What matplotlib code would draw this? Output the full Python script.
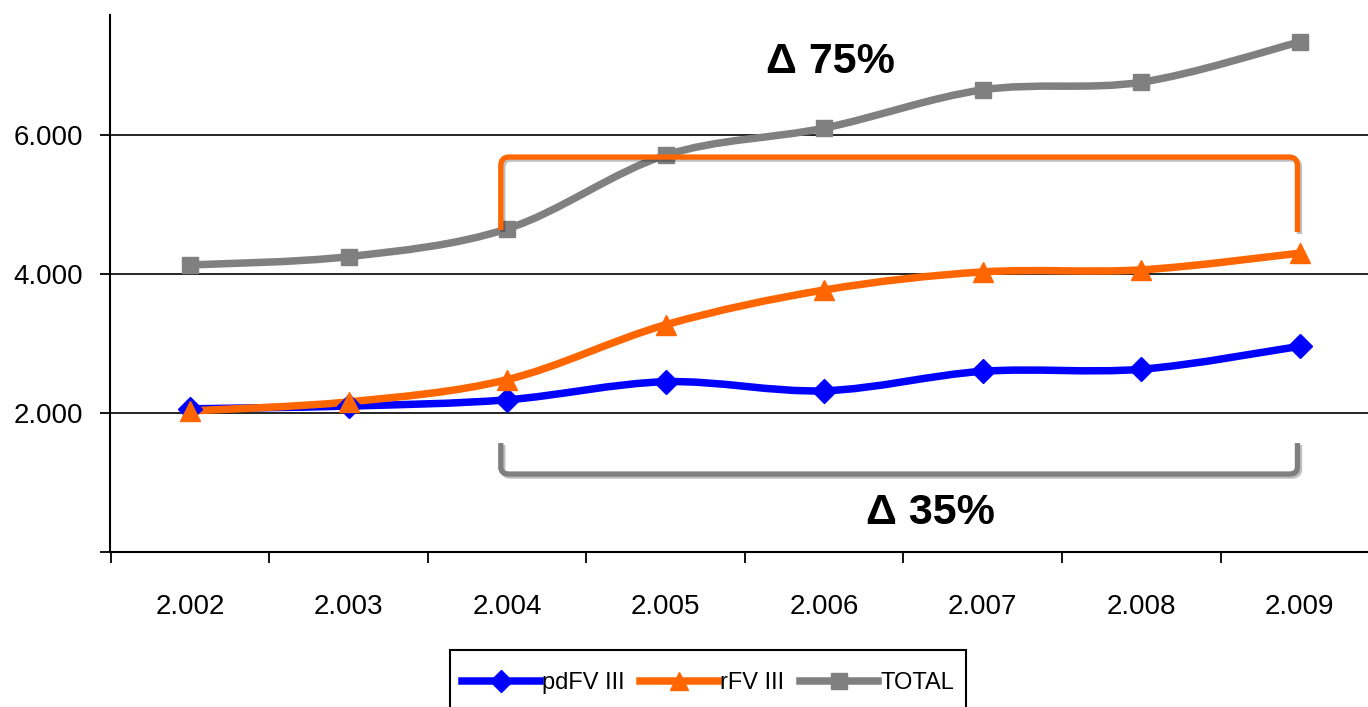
import matplotlib
matplotlib.use("Agg")
import matplotlib.pyplot as plt
import numpy as np
from matplotlib.path import Path
from matplotlib.patches import PathPatch, Rectangle
from matplotlib.lines import Line2D
from matplotlib import font_manager
import matplotlib.patheffects as pe
from matplotlib.ticker import FixedLocator, FuncFormatter

# ---- data ----
years = ["2.002", "2.003", "2.004", "2.005", "2.006", "2.007", "2.008", "2.009"]
pdFVIII = [2060, 2100, 2190, 2450, 2320, 2600, 2630, 2960]
rFVIII = [2030, 2160, 2480, 3270, 3770, 4030, 4060, 4300]
total = [4130, 4250, 4650, 5710, 6100, 6650, 6760, 7340]
series_names = ["pdFV III", "rFV III", "TOTAL"]
series_colors = ["#0000FF", "#FF6600", "#808080"]
series_markers = ["D", "^", "s"]
annot_top = "Δ 75%"
annot_bottom = "Δ 35%"

names = {f.name for f in font_manager.fontManager.ttflist}
narrow = "Liberation Sans Narrow" if "Liberation Sans Narrow" in names else "Liberation Sans"

W, H = 1368, 707
fig = plt.figure(figsize=(W / 100, H / 100), dpi=100)
ax = fig.add_axes([110 / W, 1 - 552 / H, 1 - 110 / W, (552 - 15) / H])

x = np.arange(len(years))


def smooth_path(xs, ys):
    pts = np.column_stack([xs, ys]).astype(float)
    n = len(pts)
    verts = [pts[0]]
    codes = [Path.MOVETO]
    for i in range(n - 1):
        p0 = pts[i - 1] if i > 0 else pts[i]
        p1 = pts[i]
        p2 = pts[i + 1]
        p3 = pts[i + 2] if i + 2 < n else pts[i + 1]
        c1 = p1 + (p2 - p0) / 6.0
        c2 = p2 - (p3 - p1) / 6.0
        verts += [c1, c2, p2]
        codes += [Path.CURVE4] * 3
    return Path(verts, codes)


series = [pdFVIII, rFVIII, total]
msizes = [12, 14, 12]
handles = []
for vals, name, col, mk, ms in zip(series, series_names, series_colors, series_markers, msizes):
    patch = PathPatch(smooth_path(x, vals), facecolor="none", edgecolor=col,
                      lw=5.4, capstyle="butt", joinstyle="round", zorder=3)
    ax.add_patch(patch)
    ax.plot(x, vals, ls="none", marker=mk, color=col, ms=ms, mec=col, zorder=4)
    handles.append(Line2D([], [], color=col, lw=5.4, marker=mk, ms=ms - 1, mec=col))

ax.set_xlim(-0.505, 7.43)
ax.set_ylim(0, 7727)

# axes styling
for s in ["top", "right"]:
    ax.spines[s].set_visible(False)
for s in ["left", "bottom"]:
    ax.spines[s].set_color("black")
    ax.spines[s].set_linewidth(1.5)

ax.yaxis.set_major_locator(FixedLocator([0, 2000, 4000, 6000]))
ax.yaxis.set_major_formatter(FuncFormatter(lambda v, p: "" if v == 0 else f"{int(v):,}".replace(",", ".")))
ax.tick_params(axis="y", direction="out", length=7.5, width=1.3, pad=12,
               labelsize=20, labelcolor="black")
for lbl in ax.get_yticklabels():
    lbl.set_fontfamily(narrow)
ax.grid(axis="y", color="black", lw=1.2, zorder=1)

ax.xaxis.set_major_locator(FixedLocator(np.arange(-0.5, 8.0, 1.0)))
ax.xaxis.set_major_formatter(FuncFormatter(lambda v, p: ""))
ax.xaxis.set_minor_locator(FixedLocator(x))
ax.xaxis.set_minor_formatter(FuncFormatter(lambda v, p: years[int(round(v))] if 0 <= int(round(v)) < len(years) else ""))
ax.tick_params(axis="x", which="major", direction="out", length=8, width=1.3)
ax.tick_params(axis="x", which="minor", length=0, pad=30, labelsize=20)
for lbl in ax.get_xticklabels(minor=True):
    lbl.set_fontfamily(narrow)

# brackets
shadow = [pe.SimpleLineShadow(offset=(1.5, -1.5), alpha=0.25, shadow_color="black"), pe.Normal()]


def bracket(x0, x1, y_end_l, y_end_r, y_bar, rx, ry, color, lw):
    sgn = 1 if y_bar > y_end_l else -1
    verts = [
        (x0, y_end_l), (x0, y_bar - sgn * ry), (x0, y_bar), (x0 + rx, y_bar),
        (x1 - rx, y_bar), (x1, y_bar), (x1, y_bar - sgn * ry), (x1, y_end_r),
    ]
    codes = [Path.MOVETO, Path.LINETO, Path.CURVE3, Path.CURVE3,
             Path.LINETO, Path.CURVE3, Path.CURVE3, Path.LINETO]
    p = PathPatch(Path(verts, codes), facecolor="none", edgecolor=color, lw=lw,
                  capstyle="butt", zorder=5, path_effects=shadow)
    ax.add_patch(p)


bracket(1.96, 6.985, 4633, 4604, 5683, 0.05, 130, "#FF6600", 3.8)
bracket(1.96, 6.985, 1568, 1568, 1122, 0.05, 100, "#7F7F7F", 3.8)

ax.text(4.04, 7050, annot_top, ha="center", va="center", fontsize=31,
        fontweight="bold", family="Liberation Sans", zorder=6)
ax.text(4.67, 560, annot_bottom, ha="center", va="center", fontsize=31,
        fontweight="bold", family="Liberation Sans", zorder=6)

leg = fig.legend(handles, series_names, loc="upper left",
                 bbox_to_anchor=(450 / W, 1 - 660 / H), ncol=3, frameon=False,
                 handlelength=3.3, handletextpad=0.1, columnspacing=0.65,
                 borderpad=0.5, borderaxespad=0,
                 prop={"family": narrow, "size": 17})
# legend frame (extends below the figure edge as in the reference)
fig.patches.append(Rectangle((450 / W, -0.05), (966 - 450) / W, 0.05 + (H - 650) / H,
                             transform=fig.transFigure, facecolor="none",
                             edgecolor="black", lw=1.5, zorder=0))

fig.savefig("out.png", dpi=100)
